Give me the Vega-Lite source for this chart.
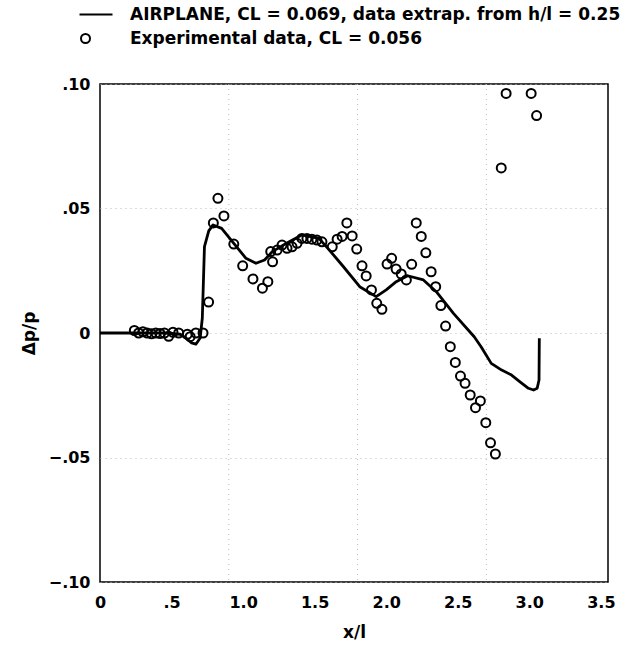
{
  "$schema": "https://vega.github.io/schema/vega-lite/v6.json",
  "width": 508,
  "height": 498,
  "autosize": {"type": "none"},
  "padding": {"left": 100, "top": 84, "right": 24, "bottom": 73},
  "background": "white",
  "config": {
    "view": {"stroke": "black", "strokeWidth": 1.5},
    "font": "DejaVu Sans"
  },
  "datasets": {
    "line": [
      {"i": 0, "x": 0.0, "y": 0.0},
      {"i": 1, "x": 0.45, "y": 0.0},
      {"i": 2, "x": 0.56, "y": -0.0005},
      {"i": 3, "x": 0.60, "y": -0.002},
      {"i": 4, "x": 0.64, "y": -0.004},
      {"i": 5, "x": 0.67, "y": -0.0045},
      {"i": 6, "x": 0.70, "y": -0.002},
      {"i": 7, "x": 0.715, "y": 0.006},
      {"i": 8, "x": 0.73, "y": 0.0347},
      {"i": 9, "x": 0.76, "y": 0.041},
      {"i": 10, "x": 0.79, "y": 0.0434},
      {"i": 11, "x": 0.85, "y": 0.042},
      {"i": 12, "x": 0.935, "y": 0.036},
      {"i": 13, "x": 1.02, "y": 0.030},
      {"i": 14, "x": 1.09, "y": 0.028},
      {"i": 15, "x": 1.15, "y": 0.0293},
      {"i": 16, "x": 1.205, "y": 0.0327},
      {"i": 17, "x": 1.30, "y": 0.036},
      {"i": 18, "x": 1.41, "y": 0.0394},
      {"i": 19, "x": 1.53, "y": 0.038},
      {"i": 20, "x": 1.60, "y": 0.0335},
      {"i": 21, "x": 1.70, "y": 0.0267},
      {"i": 22, "x": 1.815, "y": 0.0186},
      {"i": 23, "x": 1.93, "y": 0.0146},
      {"i": 24, "x": 2.00, "y": 0.0173},
      {"i": 25, "x": 2.07, "y": 0.0206},
      {"i": 26, "x": 2.15, "y": 0.023},
      {"i": 27, "x": 2.26, "y": 0.0213},
      {"i": 28, "x": 2.35, "y": 0.0166},
      {"i": 29, "x": 2.47, "y": 0.0079},
      {"i": 30, "x": 2.615, "y": -0.0015},
      {"i": 31, "x": 2.663, "y": -0.0055},
      {"i": 32, "x": 2.734, "y": -0.0122},
      {"i": 33, "x": 2.807, "y": -0.0149},
      {"i": 34, "x": 2.876, "y": -0.0169},
      {"i": 35, "x": 2.935, "y": -0.0196},
      {"i": 36, "x": 2.994, "y": -0.0222},
      {"i": 37, "x": 3.03, "y": -0.0229},
      {"i": 38, "x": 3.055, "y": -0.0222},
      {"i": 39, "x": 3.068, "y": -0.0189},
      {"i": 40, "x": 3.07, "y": -0.0021}
    ],
    "exp": [
      {"x": 0.24, "y": 0.001},
      {"x": 0.27, "y": 0.0},
      {"x": 0.30, "y": 0.0005},
      {"x": 0.33, "y": 0.0},
      {"x": 0.36, "y": -0.0003},
      {"x": 0.39, "y": 0.0},
      {"x": 0.42, "y": -0.0002},
      {"x": 0.45, "y": 0.0},
      {"x": 0.48, "y": -0.0013},
      {"x": 0.51, "y": 0.0003},
      {"x": 0.55, "y": 0.0},
      {"x": 0.61, "y": -0.0005},
      {"x": 0.63, "y": -0.0015},
      {"x": 0.67, "y": 0.0},
      {"x": 0.72, "y": 0.0},
      {"x": 0.759, "y": 0.0124},
      {"x": 0.792, "y": 0.0442},
      {"x": 0.824, "y": 0.0541},
      {"x": 0.866, "y": 0.047},
      {"x": 0.935, "y": 0.0357},
      {"x": 0.997, "y": 0.027},
      {"x": 1.069, "y": 0.0217},
      {"x": 1.135, "y": 0.018},
      {"x": 1.173, "y": 0.0206},
      {"x": 1.206, "y": 0.0286},
      {"x": 1.193, "y": 0.0327},
      {"x": 1.238, "y": 0.0333},
      {"x": 1.272, "y": 0.0353},
      {"x": 1.307, "y": 0.034},
      {"x": 1.342, "y": 0.0346},
      {"x": 1.377, "y": 0.036},
      {"x": 1.411, "y": 0.038},
      {"x": 1.446, "y": 0.038},
      {"x": 1.481, "y": 0.0377},
      {"x": 1.516, "y": 0.0373},
      {"x": 1.551, "y": 0.0366},
      {"x": 1.623, "y": 0.0346},
      {"x": 1.657, "y": 0.0377},
      {"x": 1.692, "y": 0.0388},
      {"x": 1.725, "y": 0.0442},
      {"x": 1.762, "y": 0.039},
      {"x": 1.794, "y": 0.0337},
      {"x": 1.831, "y": 0.027},
      {"x": 1.86, "y": 0.0229},
      {"x": 1.897, "y": 0.0173},
      {"x": 1.934, "y": 0.0119},
      {"x": 1.97, "y": 0.0095},
      {"x": 2.006, "y": 0.0277},
      {"x": 2.038, "y": 0.030},
      {"x": 2.069, "y": 0.0257},
      {"x": 2.105, "y": 0.0237},
      {"x": 2.141, "y": 0.0213},
      {"x": 2.178, "y": 0.0276},
      {"x": 2.21, "y": 0.0442},
      {"x": 2.245, "y": 0.0388},
      {"x": 2.277, "y": 0.0322},
      {"x": 2.314, "y": 0.0246},
      {"x": 2.346, "y": 0.0186},
      {"x": 2.382, "y": 0.011},
      {"x": 2.415, "y": 0.0028},
      {"x": 2.448, "y": -0.0055},
      {"x": 2.483, "y": -0.0118},
      {"x": 2.519, "y": -0.0173},
      {"x": 2.551, "y": -0.0202},
      {"x": 2.587, "y": -0.0249},
      {"x": 2.658, "y": -0.0273},
      {"x": 2.624, "y": -0.030},
      {"x": 2.696, "y": -0.036},
      {"x": 2.729, "y": -0.0441},
      {"x": 2.763, "y": -0.0486},
      {"x": 2.804, "y": 0.0663},
      {"x": 2.838, "y": 0.0962},
      {"x": 3.013, "y": 0.0962},
      {"x": 3.051, "y": 0.0873}
    ],
    "vgrid": [{"x": 0.9}, {"x": 1.8}, {"x": 2.7}]
  },
  "layer": [
    {
      "data": {"name": "vgrid"},
      "mark": {"type": "rule", "strokeDash": [1, 4], "color": "#bbb", "strokeWidth": 1},
      "encoding": {
        "x": {"field": "x", "type": "quantitative", "scale": {"domain": [0, 3.55], "nice": false, "zero": false}}
      }
    },
    {
      "data": {"name": "line"},
      "mark": {"type": "line", "color": "black", "strokeWidth": 2.8, "strokeJoin": "round"},
      "encoding": {
        "x": {
          "field": "x", "type": "quantitative",
          "scale": {"domain": [0, 3.55], "nice": false, "zero": false},
          "axis": {
            "values": [0, 0.5, 1, 1.5, 2, 2.5, 3, 3.5],
            "labelExpr": "datum.value == 0 ? '0' : datum.value == 0.5 ? '.5' : format(datum.value, '.1f')",
            "ticks": false, "domain": false, "grid": false,
            "labelFont": "DejaVu Sans", "labelFontWeight": "bold", "labelFontSize": 16, "labelColor": "black",
            "labelPadding": 12, "labelFlush": false, "labelOverlap": false,
            "title": "x/l", "titleFont": "DejaVu Sans", "titleFontWeight": "bold", "titleFontSize": 17, "titleColor": "black", "titlePadding": 14
          }
        },
        "y": {
          "field": "y", "type": "quantitative",
          "scale": {"domain": [-0.1, 0.1], "nice": false, "zero": false},
          "axis": {
            "values": [-0.1, -0.05, 0, 0.05, 0.1],
            "labelExpr": "datum.value == 0 ? '0' : replace(format(datum.value, '.2f'), '0.', '.')",
            "ticks": false, "domain": false, "grid": true, "gridDash": [1, 4], "gridColor": "#bbb", "gridWidth": 1,
            "labelFont": "DejaVu Sans", "labelFontWeight": "bold", "labelFontSize": 16, "labelColor": "black",
            "labelPadding": 10, "labelFlush": false, "labelOverlap": false,
            "title": "Δp/p", "titleFont": "DejaVu Sans", "titleFontWeight": "bold", "titleFontSize": 17, "titleColor": "black", "titlePadding": 10
          }
        },
        "order": {"field": "i", "type": "quantitative"}
      }
    },
    {
      "data": {"name": "exp"},
      "transform": [{"calculate": "'Experimental data, CL = 0.056'", "as": "series"}],
      "mark": {"type": "point", "filled": false, "strokeWidth": 2, "size": 81, "color": "black", "opacity": 1},
      "encoding": {
        "x": {"field": "x", "type": "quantitative"},
        "y": {"field": "y", "type": "quantitative"},
        "shape": {
          "field": "series", "type": "nominal",
          "scale": {
            "domain": ["AIRPLANE, CL = 0.069, data extrap. from h/l = 0.25", "Experimental data, CL = 0.056"],
            "range": ["M-1.33,0H6", "circle"]
          },
          "legend": {
            "orient": "none", "legendX": -23, "legendY": -78, "title": null,
            "symbolSize": 81, "labelOffset": 36, "padding": 0, "rowPadding": 6,
            "labelFont": "DejaVu Sans", "labelFontWeight": "bold", "labelFontSize": 17, "labelColor": "black", "labelLimit": 0,
            "symbolFillColor": "transparent", "symbolStrokeColor": "black", "symbolStrokeWidth": 2,
            "encode": {
              "symbols": {
                "update": {
                  "strokeWidth": {"signal": "datum.index == 0 ? 2.8 : 2"},
                  "fill": {"value": "transparent"},
                  "stroke": {"value": "black"},
                  "opacity": {"value": 1}
                }
              }
            }
          }
        }
      }
    }
  ]
}
